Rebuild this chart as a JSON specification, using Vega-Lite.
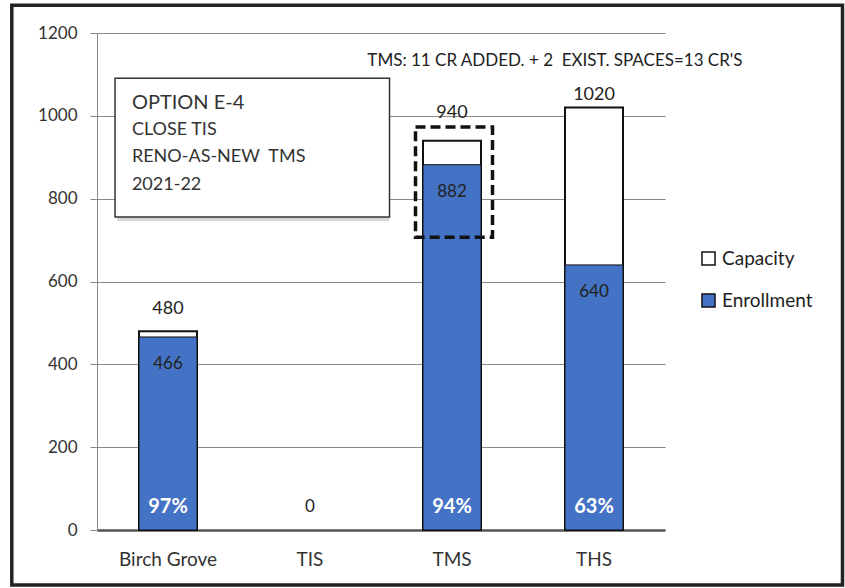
{
  "$schema": "https://vega.github.io/schema/vega-lite/v6.json",
  "width": 568,
  "height": 497,
  "autosize": {"type": "none"},
  "padding": {"left": 97, "top": 33, "right": 180, "bottom": 58},
  "background": "white",
  "config": {
    "font": "Lato",
    "view": {"stroke": null},
    "axis": {"labelFont": "Lato", "labelColor": "#333"},
    "axisY": {"grid": true, "gridColor": "#8a8a8a", "gridWidth": 1, "format": "d"},
    "legend": {"labelFont": "Lato"}
  },
  "datasets": {
    "schools": [
      {"school": "Birch Grove", "capacity": 480, "enrollment": 466, "pct": "97%"},
      {"school": "TIS", "capacity": 0, "enrollment": 0, "pct": "0"},
      {"school": "TMS", "capacity": 940, "enrollment": 882, "pct": "94%"},
      {"school": "THS", "capacity": 1020, "enrollment": 640, "pct": "63%"}
    ],
    "boxlines": [
      {"line": "OPTION E-4", "y": 1031, "size": 20},
      {"line": "CLOSE TIS", "y": 966, "size": 18},
      {"line": "RENO-AS-NEW\u00a0\u00a0TMS", "y": 900, "size": 18},
      {"line": "2021-22", "y": 834, "size": 18}
    ]
  },
  "encoding": {
    "x": {
      "field": "school",
      "type": "nominal",
      "sort": ["Birch Grove", "TIS", "TMS", "THS"],
      "scale": {"domain": ["Birch Grove", "TIS", "TMS", "THS"], "paddingInner": 0, "paddingOuter": 0},
      "axis": {"title": null, "labelAngle": 0, "ticks": false, "labelPadding": 20, "labelFontSize": 19, "domainColor": "#555", "domainWidth": 2.5, "grid": false}
    }
  },
  "layer": [
    {
      "data": {"name": "schools"},
      "transform": [{"filter": "datum.capacity > 0"}],
      "mark": {"type": "bar", "width": 58, "stroke": "#111", "strokeWidth": 2},
      "encoding": {
        "y": {
          "field": "capacity", "type": "quantitative",
          "scale": {"domain": [0, 1200]},
          "axis": {"title": null, "grid": true, "values": [0, 200, 400, 600, 800, 1000, 1200], "labelFontSize": 17, "labelPadding": 13, "tickSize": 7, "tickColor": "#888", "domainColor": "#888"}
        },
        "color": {
          "datum": "Capacity",
          "scale": {"domain": ["Capacity", "Enrollment"], "range": ["#ffffff", "#4472C4"]},
          "legend": {"title": null, "orient": "none", "legendX": 602, "legendY": 216, "symbolType": "square", "symbolSize": 170, "symbolStrokeColor": "#111", "symbolStrokeWidth": 1.5, "labelFontSize": 19, "labelColor": "#222", "rowPadding": 21, "labelOffset": 4}
        }
      }
    },
    {
      "data": {"name": "schools"},
      "transform": [{"filter": "datum.enrollment > 0"}],
      "mark": {"type": "bar", "width": 58, "stroke": "#111", "strokeWidth": 1},
      "encoding": {
        "y": {"field": "enrollment", "type": "quantitative"},
        "color": {"datum": "Enrollment"}
      }
    },
    {
      "data": {"name": "schools"},
      "transform": [{"filter": "datum.school === 'Birch Grove'"}],
      "mark": {"type": "text", "baseline": "middle", "dy": -22, "fontSize": 18, "color": "#222"},
      "encoding": {
        "y": {"field": "capacity", "type": "quantitative"},
        "text": {"field": "capacity"}
      }
    },
    {
      "data": {"name": "schools"},
      "transform": [{"filter": "datum.school === 'TMS'"}],
      "mark": {"type": "text", "baseline": "middle", "dy": -28, "fontSize": 18, "color": "#222"},
      "encoding": {
        "y": {"field": "capacity", "type": "quantitative"},
        "text": {"field": "capacity"}
      }
    },
    {
      "data": {"name": "schools"},
      "transform": [{"filter": "datum.school === 'THS'"}],
      "mark": {"type": "text", "baseline": "middle", "dy": -13, "fontSize": 18, "color": "#222"},
      "encoding": {
        "y": {"field": "capacity", "type": "quantitative"},
        "text": {"field": "capacity"}
      }
    },
    {
      "data": {"name": "schools"},
      "transform": [{"filter": "datum.enrollment > 0"}],
      "mark": {"type": "text", "baseline": "middle", "dy": 27, "fontSize": 17, "color": "#222"},
      "encoding": {
        "y": {"field": "enrollment", "type": "quantitative"},
        "text": {"field": "enrollment"}
      }
    },
    {
      "data": {"name": "schools"},
      "transform": [{"filter": "datum.enrollment > 0"}],
      "mark": {"type": "text", "baseline": "middle", "dy": -23, "fontSize": 20, "fontWeight": "bold", "color": "#ffffff"},
      "encoding": {
        "y": {"datum": 0, "type": "quantitative"},
        "text": {"field": "pct"}
      }
    },
    {
      "data": {"name": "schools"},
      "transform": [{"filter": "datum.enrollment === 0"}],
      "mark": {"type": "text", "baseline": "middle", "dy": -23, "fontSize": 17, "color": "#222"},
      "encoding": {
        "y": {"datum": 0, "type": "quantitative"},
        "text": {"field": "pct"}
      }
    },
    {
      "data": {"values": [{"school": "TMS", "lo": 707, "hi": 973}]},
      "mark": {"type": "bar", "width": 77, "filled": false, "stroke": "#111", "strokeWidth": 3.5, "strokeDash": [10, 5], "xOffset": 2},
      "encoding": {
        "y": {"field": "lo", "type": "quantitative"},
        "y2": {"field": "hi"}
      }
    },
    {
      "data": {"values": [{"lo": 756, "hi": 1091}]},
      "mark": {"type": "rect", "fill": "#bdbdbd", "opacity": 0.6, "xOffset": 2, "yOffset": 4},
      "encoding": {
        "x": {"datum": "Birch Grove", "bandPosition": 0.127, "type": "nominal"},
        "x2": {"datum": "TMS", "bandPosition": 0.06},
        "y": {"field": "lo", "type": "quantitative"},
        "y2": {"field": "hi"}
      }
    },
    {
      "data": {"values": [{"lo": 756, "hi": 1091}]},
      "mark": {"type": "rect", "fill": "white", "stroke": "#333", "strokeWidth": 1.5},
      "encoding": {
        "x": {"datum": "Birch Grove", "bandPosition": 0.127, "type": "nominal"},
        "x2": {"datum": "TMS", "bandPosition": 0.06},
        "y": {"field": "lo", "type": "quantitative"},
        "y2": {"field": "hi"}
      }
    },
    {
      "data": {"name": "boxlines"},
      "mark": {"type": "text", "align": "left", "baseline": "middle", "color": "#333"},
      "encoding": {
        "x": {"datum": "Birch Grove", "bandPosition": 0.246, "type": "nominal"},
        "y": {"field": "y", "type": "quantitative"},
        "text": {"field": "line"},
        "size": {"field": "size", "type": "quantitative", "scale": null}
      }
    },
    {
      "data": {"values": [{"t": "TMS: 11 CR ADDED. + 2\u00a0\u00a0EXIST. SPACES=13 CR'S", "y": 1132}]},
      "mark": {"type": "text", "align": "center", "baseline": "middle", "fontSize": 17, "color": "#222", "clip": false},
      "encoding": {
        "x": {"datum": "THS", "bandPosition": 0.225, "type": "nominal"},
        "y": {"field": "y", "type": "quantitative"},
        "text": {"field": "t"}
      }
    },
    {
      "data": {"values": [{"a": 1}]},
      "mark": {"type": "rect", "filled": false, "stroke": "#222", "strokeWidth": 3.5, "clip": false},
      "encoding": {
        "x": {"datum": "Birch Grove", "bandPosition": -0.6, "type": "nominal"},
        "x2": {"datum": "THS", "bandPosition": 2.25},
        "y": {"datum": 1267, "type": "quantitative"},
        "y2": {"datum": -133}
      }
    }
  ]
}
